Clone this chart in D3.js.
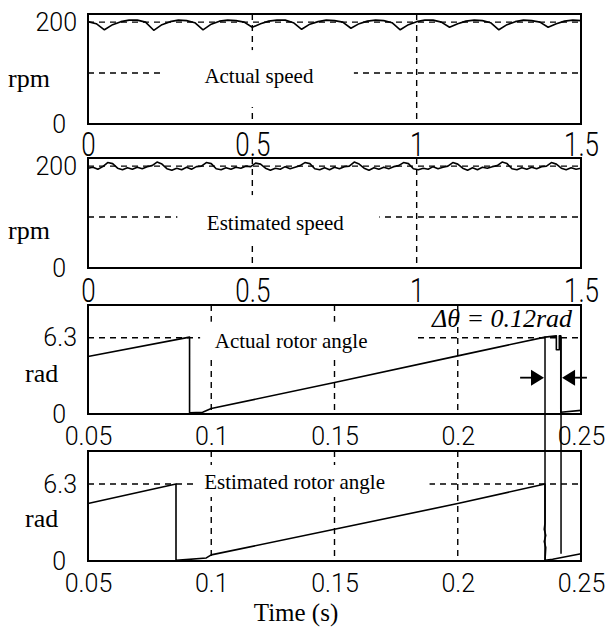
<!DOCTYPE html>
<html>
<head>
<meta charset="utf-8">
<script src="https://cdn.jsdelivr.net/npm/d3@7"></script>
<style>
  body { margin: 0; background: #fff; }
  svg { display: block; }
</style>
</head>
<body>
<svg id="chart" width="608" height="628"></svg>
<script>
/* --- Data: speed panels (rpm vs time, s) --- */
const speedTicksX = [0, 0.5, 1, 1.5];
const speedTicksY = [0, 200];
const speedGridX = [0.5, 1];
const speedGridY = [100, 200];

// actual speed, sampled every 0.025 s from 0 to 1.5 s
const actualSpeedStep = 0.025;
const actualSpeed = [
  201, 197, 185, 195, 201, 204, 204, 200, 184, 195,
  201, 204, 203, 199, 185, 196, 202, 204, 203, 200,
  190, 197, 202, 204, 204, 199, 186, 196, 201, 204,
  203, 200, 188, 197, 202, 204, 203, 199, 185, 195,
  201, 204, 204, 200, 190, 197, 202, 204, 203, 199,
  185, 195, 201, 204, 203, 200, 190, 197, 202, 204,
  203
];

// estimated speed, sampled every 0.015 s from 0 to 1.5 s
const estSpeedStep = 0.015;
const estSpeed = [
  196, 198, 194, 199, 207, 205, 196, 193, 197, 194,
  198, 195, 199, 201, 208, 204, 195, 192, 196, 193,
  198, 194, 199, 200, 207, 205, 195, 193, 197, 194,
  198, 196, 200, 199, 206, 204, 196, 192, 196, 194,
  199, 195, 198, 201, 207, 205, 195, 193, 197, 193,
  198, 195, 199, 200, 208, 204, 196, 192, 197, 194,
  198, 195, 199, 201, 207, 205, 195, 193, 196, 194,
  199, 195, 198, 200, 207, 204, 196, 192, 197, 193,
  198, 196, 199, 201, 208, 205, 195, 193, 197, 194,
  198, 195, 199, 200, 207, 204, 196, 193, 197, 194,
  196
];

/* --- Data: rotor angle panels (rad vs time, s) --- */
const angleTicksX = [0.05, 0.1, 0.15, 0.2, 0.25];
const angleTicksY = [0, 6.3];
const angleGridX = [0.1, 0.15, 0.2];
const angleGridY = [6.3];

const actualAngleT = [0.05, 0.0912, 0.0912, 0.0965, 0.1, 0.15, 0.2, 0.2354, 0.2400, 0.2400, 0.2412, 0.2412, 0.2418, 0.2418, 0.25];
const actualAngleV = [4.75, 6.35, 0.1, 0.15, 0.45, 2.6, 4.8, 6.35, 6.45, 5.3, 5.3, 6.45, 6.45, 0.15, 0.3];

const estAngleT = [0.05, 0.0857, 0.0857, 0.098, 0.1, 0.15, 0.2, 0.2354, 0.2354, 0.2351, 0.2357, 0.2351, 0.2357, 0.2354, 0.2385, 0.25];
const estAngleV = [4.7, 6.3, 0.05, 0.25, 0.5, 2.6, 4.7, 6.3, 3.1, 2.6, 2.1, 1.6, 1.1, 0.05, 0.15, 0.6];

// reset instants marked across the two angle panels
const resetTimes = [0.2354, 0.2419];

/* --- Helpers --- */
const sampled = (vals, step) => vals.map((v, i) => [i * step, v]);
const paired = (ts, vs) => ts.map((t, i) => [t, vs[i]]);

/* --- Panel layout --- */
const plotLeft = 88, plotRight = 581;
const svg = d3.select('#chart');

const panels = [
  {
    top: 14, bottom: 124, xDomain: [0, 1.5], yDomain: [0, 216],
    xTicks: speedTicksX, yTicks: speedTicksY, gridX: speedGridX, gridY: speedGridY,
    data: sampled(actualSpeed, actualSpeedStep),
    yLabel: 'rpm', yLabelX: 8, yLabelDy: 18, tickOff: 20, tickScale: 1.3,
    label: { text: 'Actual speed', t: 0.520, v: 100, dy: 10, box: [-96, 95, -33, 24] }
  },
  {
    top: 158, bottom: 268, xDomain: [0, 1.5], yDomain: [0, 216],
    xTicks: speedTicksX, yTicks: speedTicksY, gridX: speedGridX, gridY: speedGridY,
    data: sampled(estSpeed, estSpeedStep),
    yLabel: 'rpm', yLabelX: 8, yLabelDy: 26, tickOff: 22, tickScale: 1.3,
    label: { text: 'Estimated speed', t: 0.570, v: 100, dy: 13, box: [-98, 104, -35, 15] }
  },
  {
    top: 305, bottom: 414, xDomain: [0.05, 0.25], yDomain: [0, 9],
    xTicks: angleTicksX, yTicks: angleTicksY, gridX: angleGridX, gridY: angleGridY,
    data: paired(actualAngleT, actualAngleV),
    yLabel: 'rad', yLabelX: 25, yLabelDy: 22, tickOff: 22, tickScale: 1,
    label: { text: 'Actual rotor angle', t: 0.1324, v: 6.3, dy: 10, box: [-91, 123, -26, 12] }
  },
  {
    top: 451, bottom: 561, xDomain: [0.05, 0.25], yDomain: [0, 9],
    xTicks: angleTicksX, yTicks: angleTicksY, gridX: angleGridX, gridY: angleGridY,
    data: paired(estAngleT, estAngleV),
    yLabel: 'rad', yLabelX: 25, yLabelDy: 21, tickOff: 22, tickScale: 1,
    label: { text: 'Estimated rotor angle', t: 0.1338, v: 6.3, dy: 5, box: [-100, 135, -24, 8] }
  }
];

const tickFont = 'Roboto, "Liberation Sans", Arial, sans-serif';
const serifFont = '"Liberation Serif", "Times New Roman", serif';

function drawPanel(p) {
  const x = d3.scaleLinear().domain(p.xDomain).range([plotLeft, plotRight]);
  const y = d3.scaleLinear().domain(p.yDomain).range([p.bottom, p.top]);
  const g = svg.append('g');

  // dashed grid
  g.selectAll('line.gx').data(p.gridX).join('line')
    .attr('x1', d => x(d)).attr('x2', d => x(d))
    .attr('y1', p.top).attr('y2', p.bottom)
    .attr('stroke', '#000').attr('stroke-width', 1.4).attr('stroke-dasharray', '6,5');
  g.selectAll('line.gy').data(p.gridY).join('line')
    .attr('x1', plotLeft).attr('x2', plotRight)
    .attr('y1', d => y(d)).attr('y2', d => y(d))
    .attr('stroke', '#000').attr('stroke-width', 1.4).attr('stroke-dasharray', '6,5');

  // label on white box
  const lx = x(p.label.t), ly = y(p.label.v) + p.label.dy;
  const b = p.label.box;
  g.append('rect')
    .attr('x', lx + b[0]).attr('y', ly + b[2])
    .attr('width', b[1] - b[0]).attr('height', b[3] - b[2])
    .attr('fill', '#fff');
  g.append('text')
    .attr('x', lx).attr('y', ly)
    .attr('text-anchor', 'middle')
    .attr('font-family', serifFont).attr('font-size', 21)
    .text(p.label.text);

  // signal
  g.append('path')
    .datum(p.data)
    .attr('d', d3.line().x(d => x(d[0])).y(d => y(d[1])))
    .attr('fill', 'none').attr('stroke', '#000').attr('stroke-width', 1.6)
    .attr('stroke-linejoin', 'round');

  // frame
  g.append('rect')
    .attr('x', plotLeft).attr('y', p.top)
    .attr('width', plotRight - plotLeft).attr('height', p.bottom - p.top)
    .attr('fill', 'none').attr('stroke', '#000').attr('stroke-width', 2);

  // x axis
  const xa = g.append('g')
    .attr('transform', `translate(0,${p.bottom})`)
    .call(d3.axisBottom(x).tickValues(p.xTicks).tickSize(0).tickFormat(d3.format('')));
  xa.select('.domain').remove();
  xa.selectAll('text')
    .attr('y', 0).attr('dy', '0.36em')
    .attr('transform', `translate(0,${p.tickOff}) scale(1,${p.tickScale})`)
    .attr('font-family', tickFont).attr('font-weight', 300)
    .attr('font-size', p.tickScale > 1 ? 26 : 25)
    .attr('fill', '#000');

  // y axis
  const ya = g.append('g')
    .attr('transform', `translate(${plotLeft},0)`)
    .call(d3.axisLeft(y).tickValues(p.yTicks).tickSize(0).tickPadding(11).tickFormat(d3.format('')));
  ya.select('.domain').remove();
  ya.selectAll('text')
    .attr('font-family', tickFont).attr('font-weight', 300)
    .attr('font-size', 25).attr('fill', '#000')
    .attr('x', d => d === 0 ? -22 : -11);

  // y label
  svg.append('text')
    .attr('x', p.yLabelX).attr('y', (p.top + p.bottom) / 2 + p.yLabelDy)
    .attr('font-family', serifFont).attr('font-size', 26)
    .text(p.yLabel);

  return { x, y };
}

const scales = panels.map(drawPanel);

/* --- Reset markers and delta annotation (angle panels) --- */
const xa = scales[2].x, y3 = scales[2].y, y4 = scales[3].y;
const markTop = [6.4, 6.4];
const markBottom = [0, 0.6];
svg.selectAll('line.mark').data(resetTimes).join('line')
  .attr('x1', d => xa(d)).attr('x2', d => xa(d))
  .attr('y1', (d, i) => y3(markTop[i])).attr('y2', (d, i) => y4(markBottom[i]))
  .attr('stroke', '#000').attr('stroke-width', 1.5);

const arrowV = 3.0;
const arrowFrom = [0.2253, 0.2524];
const ay = y3(arrowV);
resetTimes.forEach((t, i) => {
  const tip = xa(t) + (i === 0 ? -1 : 1);
  const dir = i === 0 ? 1 : -1;
  const base = tip - dir * 13;
  svg.append('line')
    .attr('x1', xa(arrowFrom[i])).attr('x2', base)
    .attr('y1', ay).attr('y2', ay)
    .attr('stroke', '#000').attr('stroke-width', 1.8);
  svg.append('polygon')
    .attr('points', `${tip},${ay} ${base},${ay - 8} ${base},${ay + 8}`)
    .attr('fill', '#000');
});

svg.append('text')
  .attr('x', xa(0.2464)).attr('y', y3(7.2))
  .attr('text-anchor', 'end')
  .attr('font-family', serifFont).attr('font-size', 26).attr('font-style', 'italic')
  .text('\u0394\u03B8 = 0.12rad');

/* --- Shared x label --- */
svg.append('text')
  .attr('x', 296).attr('y', 621)
  .attr('text-anchor', 'middle')
  .attr('font-family', serifFont).attr('font-size', 25)
  .text('Time (s)');
</script>
</body>
</html>
